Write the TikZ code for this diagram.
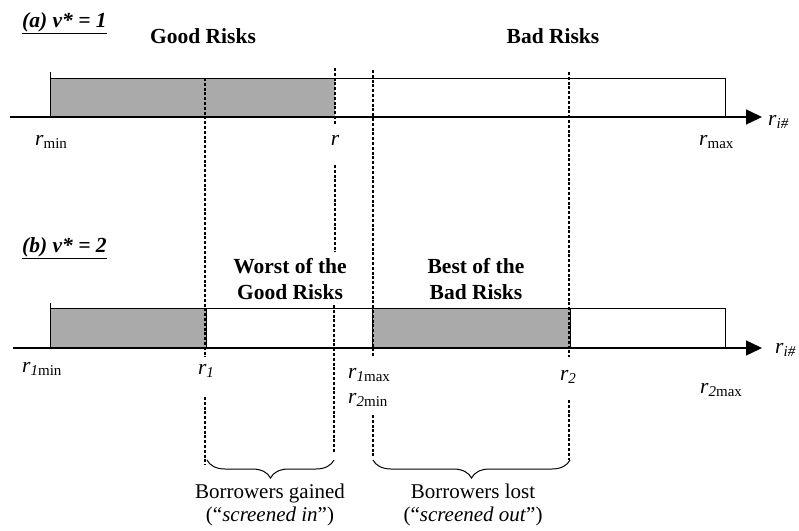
\documentclass[tikz,border=0pt]{standalone}
\usepackage{fontspec}
\setmainfont{Liberation Serif}
\usetikzlibrary{arrows.meta,decorations.pathreplacing}
\definecolor{riskgray}{RGB}{170,170,170}
\newcommand{\rlab}[1]{\textit{r}\raisebox{-0.35ex}{\fontsize{15}{15}\selectfont #1}}

\begin{document}
\begin{tikzpicture}[x=1pt,y=-1pt,
    axis/.style={line width=1.4pt,-{Triangle[length=16pt,width=15pt]}},
    box/.style={line width=1pt},
    guide/.style={dash pattern=on 3pt off 1.8pt,line width=1.1pt},
    head/.style={font=\fontsize{21.5}{26}\selectfont\bfseries,align=center,inner sep=0pt},
    lab/.style={font=\fontsize{21.5}{24}\selectfont,inner sep=0pt},
    note/.style={font=\fontsize{21}{23}\selectfont,align=center,inner sep=0pt},
    brc/.style={decorate,decoration={brace,mirror,amplitude=18pt},line width=1pt}]
    \useasboundingbox (0,0) rectangle (799,530);

    % (a) one contract
    \fill [riskgray] (50,78) rectangle (335,117);
    \draw [box] (50,72) -- (50,117);
    \draw [box] (50,78) -- (725,78) -- (725,117);
    \draw [axis] (10,117) -- (762,117);

    % (b) two contracts
    \fill [riskgray] (50,308) rectangle (206,348);
    \fill [riskgray] (372,308) rectangle (570,348);
    \draw [box] (50,303) -- (50,348);
    \draw [box] (50,308) -- (725,308) -- (725,348);
    \draw [box] (206,308) -- (206,348);
    \draw [box] (372,308) -- (372,348);
    \draw [box] (570,308) -- (570,348);
    \draw [axis] (13,348) -- (762,348);

    % cut-offs
    \draw [guide] (205,78) -- (205,357);
    \draw [guide] (205,397) -- (205,465);
    \draw [guide] (335,68) -- (335,125);
    \draw [guide] (335,165) -- (335,252);
    \draw [guide] (334,305) -- (334,453);
    \draw [guide] (373,70) -- (373,357);
    \draw [guide] (373,415) -- (373,458);
    \draw [guide] (569,72) -- (569,357);
    \draw [guide] (569,400) -- (569,460);

    % headings
    \node [head, anchor=base west] (titlea) at (22,27) {\itshape\underline{(a) v* = 1}};
    \node [head] (gooda) at (203,36) {Good Risks};
    \node [head] (bada) at (553,36) {Bad Risks};
    \node [head, anchor=base west] (titleb) at (22,252) {\itshape\underline{(b) v* = 2}};
    \node [head] (worst) at (290,279) {Worst of the\\Good Risks};
    \node [head] (best) at (476,279) {Best of the\\Bad Risks};

    % axis labels
    \node [lab, anchor=base west] (rmin) at (35,145) {\rlab{min}};
    \node [lab, anchor=base] (rcut) at (335,145) {\textit{r}};
    \node [lab, anchor=base west] (rmax) at (699,145) {\rlab{max}};
    \node [lab, anchor=base west] (ria) at (768,125) {\rlab{\textit{i\#}}};
    \node [lab, anchor=base west] (ronemin) at (22,372) {\rlab{\textit{1}min}};
    \node [lab, anchor=base] (rone) at (206,374) {\rlab{\textit{1}}};
    \node [lab, anchor=base west] (ronemax) at (348,378) {\rlab{\textit{1}max}};
    \node [lab, anchor=base west] (rtwomin) at (348,403) {\rlab{\textit{2}min}};
    \node [lab, anchor=base] (rtwo) at (568,380) {\rlab{\textit{2}}};
    \node [lab, anchor=base west] (rtwomax) at (700,393) {\rlab{\textit{2}max}};
    \node [lab, anchor=base west] (rib) at (775,353) {\rlab{\textit{i\#}}};

    % braces
    \draw [brc] (207,460) -- (334,460);
    \draw [brc] (373,460) -- (570,460);
    \node [note] (gained) at (270,505) {Borrowers gained\\(“\textit{screened in}”)};
    \node [note] (lost) at (473,505) {Borrowers lost\\(“\textit{screened out}”)};
\end{tikzpicture}
\end{document}
